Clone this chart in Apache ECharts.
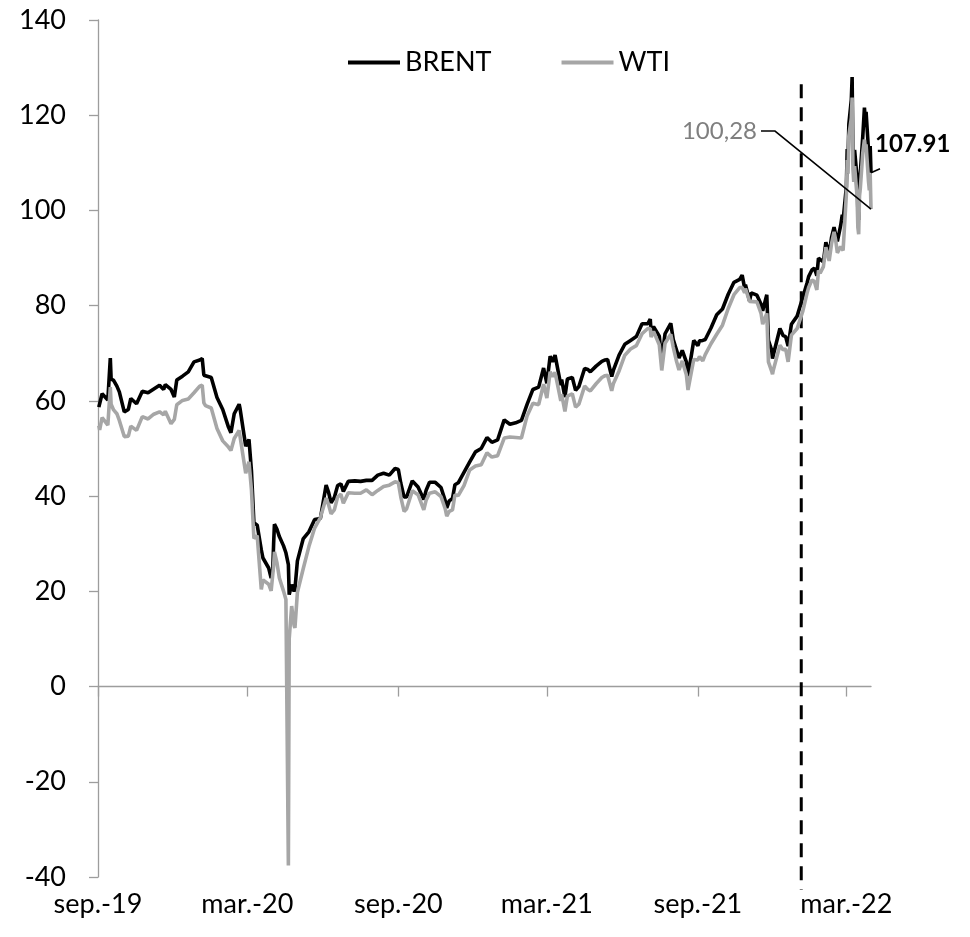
<!DOCTYPE html>
<html>
<head>
<meta charset="utf-8">
<title>Brent / WTI</title>
<script src="https://cdn.jsdelivr.net/npm/echarts@6/dist/echarts.min.js"></script>
<style>
  html, body { margin: 0; padding: 0; background: #fff; }
  #oilPrices { width: 970px; height: 937px; }
</style>
</head>
<body>
<div id="oilPrices"></div>
<script>
// closes, one line per month (key days + roughly weekly)
var dates = [
  '2019-09-02','2019-09-03','2019-09-06','2019-09-13','2019-09-16','2019-09-17','2019-09-20','2019-09-24','2019-09-27',
  '2019-10-03','2019-10-08','2019-10-11','2019-10-18','2019-10-25',
  '2019-11-01','2019-11-08','2019-11-15','2019-11-20','2019-11-22','2019-11-29',
  '2019-12-03','2019-12-06','2019-12-13','2019-12-20','2019-12-27',
  '2020-01-03','2020-01-06','2020-01-08','2020-01-10','2020-01-17','2020-01-24','2020-01-31',
  '2020-02-07','2020-02-10','2020-02-14','2020-02-20','2020-02-21','2020-02-28',
  '2020-03-03','2020-03-06','2020-03-09','2020-03-13','2020-03-18','2020-03-20','2020-03-27','2020-03-30','2020-03-31',
  '2020-04-01','2020-04-02','2020-04-03','2020-04-06','2020-04-09','2020-04-14','2020-04-17','2020-04-20','2020-04-21','2020-04-24','2020-04-27','2020-04-28',
  '2020-05-01','2020-05-08','2020-05-15','2020-05-22','2020-05-29',
  '2020-06-05','2020-06-08','2020-06-11','2020-06-15','2020-06-19','2020-06-23','2020-06-26',
  '2020-07-02','2020-07-10','2020-07-17','2020-07-24','2020-07-31',
  '2020-08-07','2020-08-14','2020-08-21','2020-08-28',
  '2020-09-01','2020-09-04','2020-09-08','2020-09-11','2020-09-18','2020-09-25',
  '2020-10-02','2020-10-05','2020-10-09','2020-10-16','2020-10-23','2020-10-28','2020-10-30',
  '2020-11-02','2020-11-06','2020-11-09','2020-11-13','2020-11-20','2020-11-27',
  '2020-12-04','2020-12-11','2020-12-18','2020-12-24','2020-12-31',
  '2021-01-08','2021-01-15','2021-01-22','2021-01-29',
  '2021-02-05','2021-02-12','2021-02-19','2021-02-25',
  '2021-03-01','2021-03-05','2021-03-08','2021-03-11','2021-03-18','2021-03-19','2021-03-23','2021-03-26',
  '2021-04-01','2021-04-05','2021-04-09','2021-04-16','2021-04-20','2021-04-23','2021-04-30',
  '2021-05-07','2021-05-11','2021-05-14','2021-05-19','2021-05-21','2021-05-28',
  '2021-06-04','2021-06-11','2021-06-18','2021-06-25',
  '2021-07-02','2021-07-05','2021-07-06','2021-07-09','2021-07-16','2021-07-19','2021-07-23','2021-07-30',
  '2021-08-02','2021-08-06','2021-08-09','2021-08-13','2021-08-18','2021-08-20','2021-08-27',
  '2021-09-01','2021-09-03','2021-09-07','2021-09-10','2021-09-17','2021-09-24',
  '2021-10-01','2021-10-08','2021-10-15','2021-10-22','2021-10-25','2021-10-28','2021-10-29',
  '2021-11-03','2021-11-05','2021-11-12','2021-11-17','2021-11-19','2021-11-24','2021-11-26','2021-11-30',
  '2021-12-01','2021-12-02','2021-12-03','2021-12-10','2021-12-14','2021-12-17','2021-12-20','2021-12-24','2021-12-31',
  '2022-01-07','2022-01-12','2022-01-14','2022-01-18','2022-01-21','2022-01-24','2022-01-26','2022-01-28',
  '2022-02-01','2022-02-04','2022-02-08','2022-02-11','2022-02-14','2022-02-16','2022-02-18','2022-02-22','2022-02-24','2022-02-25',
  '2022-03-01','2022-03-02','2022-03-03','2022-03-04','2022-03-07','2022-03-08','2022-03-09','2022-03-10','2022-03-11','2022-03-14','2022-03-15','2022-03-16',
  '2022-03-17','2022-03-18','2022-03-21','2022-03-22','2022-03-23','2022-03-24','2022-03-25','2022-03-28','2022-03-29','2022-03-30','2022-03-31'
];
var brent = [
  58.7,58.3,61.5,60.2,69.0,64.6,64.3,63.1,61.9,
  57.7,58.2,60.5,59.4,62.0,
  61.7,62.5,63.3,62.4,63.4,62.4,
  60.8,64.4,65.2,66.1,68.2,
  68.6,68.9,65.4,65.0,64.9,60.7,58.2,
  54.5,53.3,57.3,59.3,58.5,50.5,
  51.9,45.3,34.4,33.9,28.7,27.0,24.9,22.8,22.7,
  24.7,29.9,34.1,33.1,31.5,29.6,28.1,25.6,19.3,21.4,20.0,20.5,
  26.4,31.0,32.5,35.1,35.3,
  42.3,40.8,38.6,39.7,42.2,42.6,41.0,
  43.1,43.2,43.1,43.3,43.3,
  44.4,44.8,44.4,45.8,
  45.6,42.7,39.8,39.8,43.2,41.9,
  39.3,41.3,42.9,42.9,41.8,39.1,37.5,
  39.0,39.5,42.4,42.8,45.0,47.2,
  49.3,50.0,52.3,51.3,51.8,
  56.0,55.1,55.4,55.9,
  59.3,62.4,62.9,66.9,
  63.7,69.4,68.2,69.6,63.3,64.5,60.8,64.6,
  64.9,62.2,63.0,66.8,66.6,66.1,67.3,
  68.3,68.6,68.7,65.1,66.4,69.6,
  71.9,72.7,73.5,76.2,
  76.2,77.2,74.5,75.6,73.6,68.6,74.1,76.3,
  72.9,70.7,69.0,70.6,68.2,65.2,72.7,
  71.6,72.6,72.7,72.9,75.3,78.1,
  79.3,82.4,84.9,85.5,86.4,83.7,84.4,
  81.0,82.7,82.2,80.3,78.9,82.3,72.7,70.6,
  68.9,69.7,69.9,75.2,73.7,73.5,71.5,76.1,77.8,
  81.8,84.7,86.1,87.5,87.9,86.3,90.0,90.0,
  89.2,93.3,90.8,94.4,96.5,94.8,93.5,96.8,99.1,97.9,
  105.0,112.9,110.5,118.1,123.2,128.0,111.1,109.3,112.7,106.9,99.9,98.0,
  106.6,107.9,115.6,115.5,121.6,119.0,120.7,112.5,110.2,113.5,107.91
];
var wti = [
  54.8,53.9,56.5,54.9,62.9,59.3,58.1,57.3,55.9,
  52.5,52.6,54.7,53.8,56.7,
  56.2,57.2,57.7,57.1,57.8,55.2,
  56.1,59.2,60.1,60.4,61.7,
  63.1,63.3,59.6,59.0,58.5,54.2,51.6,
  50.3,49.6,52.1,53.8,53.4,44.8,
  47.2,41.3,31.1,31.7,20.4,22.4,21.5,20.1,20.5,
  20.3,25.3,28.3,26.1,22.8,20.1,18.3,-37.6,10.0,16.9,12.8,12.3,
  19.8,24.7,29.4,33.3,35.5,
  39.6,38.2,36.3,37.1,39.8,40.4,38.5,
  40.7,40.6,40.6,41.3,40.3,
  41.2,42.0,42.3,43.0,
  42.8,39.8,36.8,37.3,41.1,40.3,
  37.1,39.2,40.6,40.9,39.9,37.4,35.8,
  36.8,37.1,40.3,40.1,42.2,45.5,
  46.3,46.6,49.1,48.2,48.5,
  52.2,52.4,52.3,52.2,
  56.9,59.5,59.2,63.5,
  60.6,66.1,65.1,66.0,60.0,61.4,57.8,61.0,
  61.5,58.7,59.3,63.1,62.4,62.1,63.6,
  64.9,65.3,65.4,62.1,63.6,66.3,
  69.6,70.9,71.6,74.1,
  75.2,75.2,73.4,74.6,71.8,66.4,72.1,74.0,
  71.3,68.3,66.5,68.4,65.5,62.3,68.7,
  68.6,69.3,68.4,69.7,72.0,74.0,
  75.9,79.4,82.3,83.8,83.8,82.7,83.6,
  80.9,81.3,80.8,78.4,76.1,78.4,68.2,66.2,
  65.6,66.5,66.3,71.7,70.7,70.9,68.2,73.8,75.2,
  78.9,82.6,83.8,85.4,85.1,83.3,87.4,86.8,
  88.2,92.3,89.4,93.1,95.5,93.7,91.1,92.4,92.8,91.6,
  103.4,110.6,107.7,115.7,119.4,123.7,108.7,106.0,109.3,103.0,96.4,95.0,
  103.0,104.7,112.1,111.8,114.9,112.3,113.9,106.0,104.2,107.8,100.28
];
var tickDates = ['2019-09-01','2020-03-01','2020-09-01','2021-03-01','2021-09-01','2022-03-01'];
var tickLabels = ['sep.-19','mar.-20','sep.-20','mar.-21','sep.-21','mar.-22'];
var markerDate = '2022-01-05';
var lastBrentText = '107.91';
var lastWtiText = '100,28';

// one category per calendar day so the axis spaces dates like a date axis
function dayList(from, to) {
  var out = [];
  var d = new Date(from + 'T00:00:00Z');
  var end = new Date(to + 'T00:00:00Z');
  while (d <= end) {
    out.push(d.toISOString().slice(0, 10));
    d.setUTCDate(d.getUTCDate() + 1);
  }
  return out;
}
var days = dayList('2019-09-01', '2022-03-31');

function isTick(index, value) {
  return tickDates.indexOf(value) >= 0;
}
function pairs(values) {
  return dates.map(function (d, i) { return [days.indexOf(d), values[i]]; });
}

var FONT = 'Lato';
var AXIS_GREY = '#9d9d9d';

var chart = echarts.init(document.getElementById('oilPrices'));

var option = {
  animation: false,
  backgroundColor: '#fff',
  grid: { left: 98, right: 99, top: 20, bottom: 60 },
  legend: {
    top: 44,
    left: 343,
    icon: 'rect',
    itemWidth: 52,
    itemHeight: 4,
    itemGap: 70,
    data: ['BRENT', 'WTI'],
    textStyle: { fontFamily: FONT, fontSize: 27, color: '#000' }
  },
  xAxis: [
    {
      type: 'category',
      data: days,
      boundaryGap: false,
      axisLine: { onZero: true, lineStyle: { color: AXIS_GREY, width: 1.3 } },
      axisTick: { interval: isTick, length: 10, lineStyle: { color: AXIS_GREY, width: 1.3 } },
      axisLabel: { show: false },
      splitLine: { show: false }
    },
    {
      type: 'category',
      data: days,
      boundaryGap: false,
      position: 'bottom',
      axisLine: { show: false, onZero: false },
      axisTick: { show: false },
      splitLine: { show: false },
      axisLabel: {
        interval: isTick,
        margin: 14,
        fontFamily: FONT,
        fontSize: 27,
        color: '#000',
        formatter: function (value) {
          return tickLabels[tickDates.indexOf(value)];
        }
      }
    }
  ],
  yAxis: {
    type: 'value',
    min: -40,
    max: 140,
    interval: 20,
    axisLine: { show: true, lineStyle: { color: AXIS_GREY, width: 1.3 } },
    axisTick: { show: true, length: 9, lineStyle: { color: AXIS_GREY, width: 1.3 } },
    axisLabel: { margin: 32, fontFamily: FONT, fontSize: 27, color: '#000' },
    splitLine: { show: false }
  },
  series: [
    {
      name: 'BRENT',
      type: 'line',
      data: pairs(brent),
      showSymbol: false,
      symbol: 'none',
      color: '#000',
      lineStyle: { color: '#000', width: 3.6 },
      z: 2
    },
    {
      name: 'WTI',
      type: 'line',
      data: pairs(wti),
      showSymbol: false,
      symbol: 'none',
      color: '#a6a6a6',
      lineStyle: { color: '#a6a6a6', width: 3.6 },
      z: 3
    }
  ]
};

chart.setOption(option);

// dashed marker and end-of-series callouts, placed through the axes' own scales
var toPx = function (idx, v) {
  return chart.convertToPixel({ xAxisIndex: 0, yAxisIndex: 0 }, [idx, v]);
};
var mIdx = days.indexOf(markerDate);
var mTop = toPx(mIdx, 126.5);
var mBottom = toPx(mIdx, -42.7);
var endIdx = days.indexOf(dates[dates.length - 1]);
var pB = toPx(endIdx, brent[brent.length - 1]);
var pW = toPx(endIdx, wti[wti.length - 1]);

chart.setOption({
  graphic: [
    {
      type: 'line',
      z: 1,
      shape: { x1: mTop[0], y1: mTop[1], x2: mBottom[0], y2: mBottom[1] },
      style: { stroke: '#000', lineWidth: 3, lineDash: [14, 9] }
    },
    {
      type: 'polyline',
      z: 20,
      shape: { points: [[pW[0], pW[1]], [pW[0] - 96, pW[1] - 78], [pW[0] - 110, pW[1] - 78]] },
      style: { stroke: '#000', lineWidth: 1.5, fill: null }
    },
    {
      type: 'text',
      z: 20,
      x: pW[0] - 114,
      y: pW[1] - 78,
      style: { text: lastWtiText, fill: '#7f7f7f', font: '24px Lato', align: 'right', verticalAlign: 'middle' }
    },
    {
      type: 'line',
      z: 20,
      shape: { x1: pB[0], y1: pB[1], x2: pB[0] + 9, y2: pB[1] - 4 },
      style: { stroke: '#000', lineWidth: 1.5 }
    },
    {
      type: 'text',
      z: 20,
      x: pB[0] + 4,
      y: pB[1] - 29,
      style: { text: lastBrentText, fill: '#000', font: 'bold 24px Lato', align: 'left', verticalAlign: 'middle' }
    }
  ]
});
</script>
</body>
</html>
